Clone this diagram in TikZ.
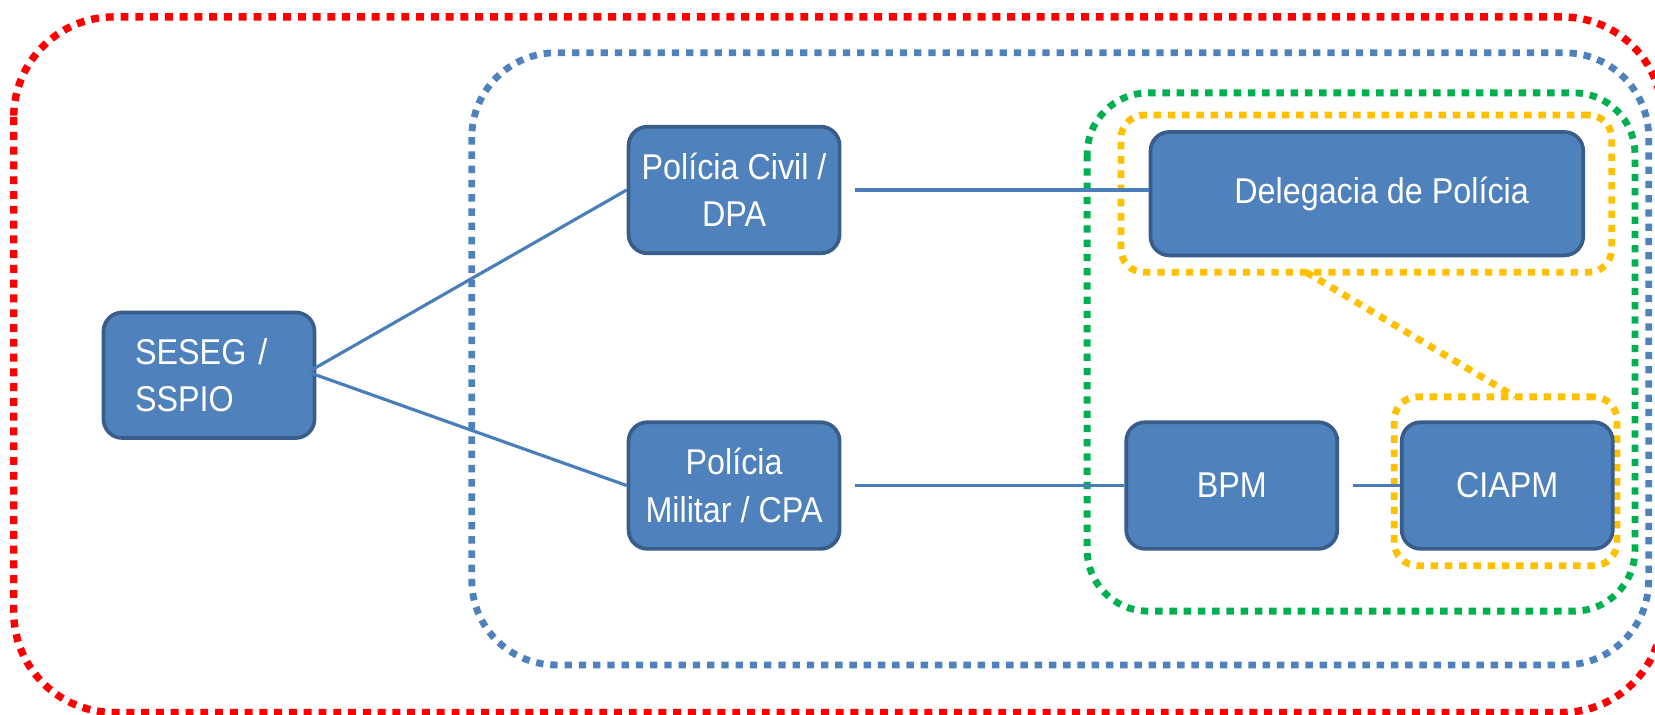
\documentclass[tikz,border=0pt]{standalone}
\usepackage{fontspec}
\setmainfont[FakeStretch=0.9]{Liberation Sans}
\definecolor{boxfill}{HTML}{4F81BD}
\definecolor{boxedge}{HTML}{385D8A}
\definecolor{conn}{HTML}{4A7EBB}
\definecolor{fred}{HTML}{FF0000}
\definecolor{fblue}{HTML}{4F81BD}
\definecolor{fgreen}{HTML}{00B050}
\definecolor{fyellow}{HTML}{FFC000}
\begin{document}
\begin{tikzpicture}[x=1pt,y=-1pt,
  orgbox/.style={draw=boxedge, line width=3.5pt, fill=boxfill, rounded corners=18pt,
    text=white, font=\fontsize{34}{45}\selectfont, align=center,
    minimum width=200pt, minimum height=120pt, inner sep=0pt},
  link/.style={draw=conn, line width=3pt},
  dotline/.style={line width=6.5pt, line cap=butt, dash pattern=on 7pt off 6.5pt},
  dotframe/.style={dotline, rounded corners=#1},
]
\useasboundingbox (0,0) rectangle (1568,677);
% frames
\draw[dotframe=95pt, draw=fred, line width=7pt, dash pattern=on 7.5pt off 6.5pt] (13,16) rectangle (1575,675);
\draw[dotframe=80pt, draw=fblue] (447,50) rectangle (1562,630);
\draw[dotframe=58pt, draw=fgreen] (1030,88) rectangle (1549,579);
\node[draw=fyellow, dotframe=22pt, minimum width=465pt, minimum height=149pt, inner sep=0pt, outer sep=0pt] (y1) at (1294.5,183.5) {};
\node[draw=fyellow, dotframe=22pt, minimum width=211pt, minimum height=160pt, inner sep=0pt, outer sep=0pt] (y2) at (1426.5,456) {};
\draw[dotline, draw=fyellow] ([xshift=-57pt]y1.south) -- ([xshift=9pt]y2.north);
% boxes
\node[orgbox, minimum width=200pt, minimum height=119pt, text width=140pt, align=left, inner xsep=30pt] (ses) at (198,355.5) {SESEG /\\SSPIO};
\node[orgbox] (pc) at (695.5,180) {Polícia Civil /\\DPA};
\node[orgbox] (pm) at (695.5,460) {Polícia\\Militar / CPA};
\node[orgbox, minimum width=410pt, minimum height=117pt] (del) at (1295,183.5) {\hspace*{28pt}Delegacia de Polícia};
\node[orgbox] (bpm) at (1167,460) {BPM};
\node[orgbox] (cia) at (1428,460) {CIAPM};
% connectors
\coordinate (hub) at ([xshift=-8pt,yshift=3pt]ses.east);
\draw[link] (hub) -- (pc.west);
\draw[link] (hub) -- (pm.west);
\draw[link] ([xshift=13pt]pc.east) -- (pc.east -| del.west);
\draw[link] ([xshift=13pt]pm.east) -- (bpm.west);
\draw[link] ([xshift=13pt]bpm.east) -- (cia.west);
\end{tikzpicture}
\end{document}
